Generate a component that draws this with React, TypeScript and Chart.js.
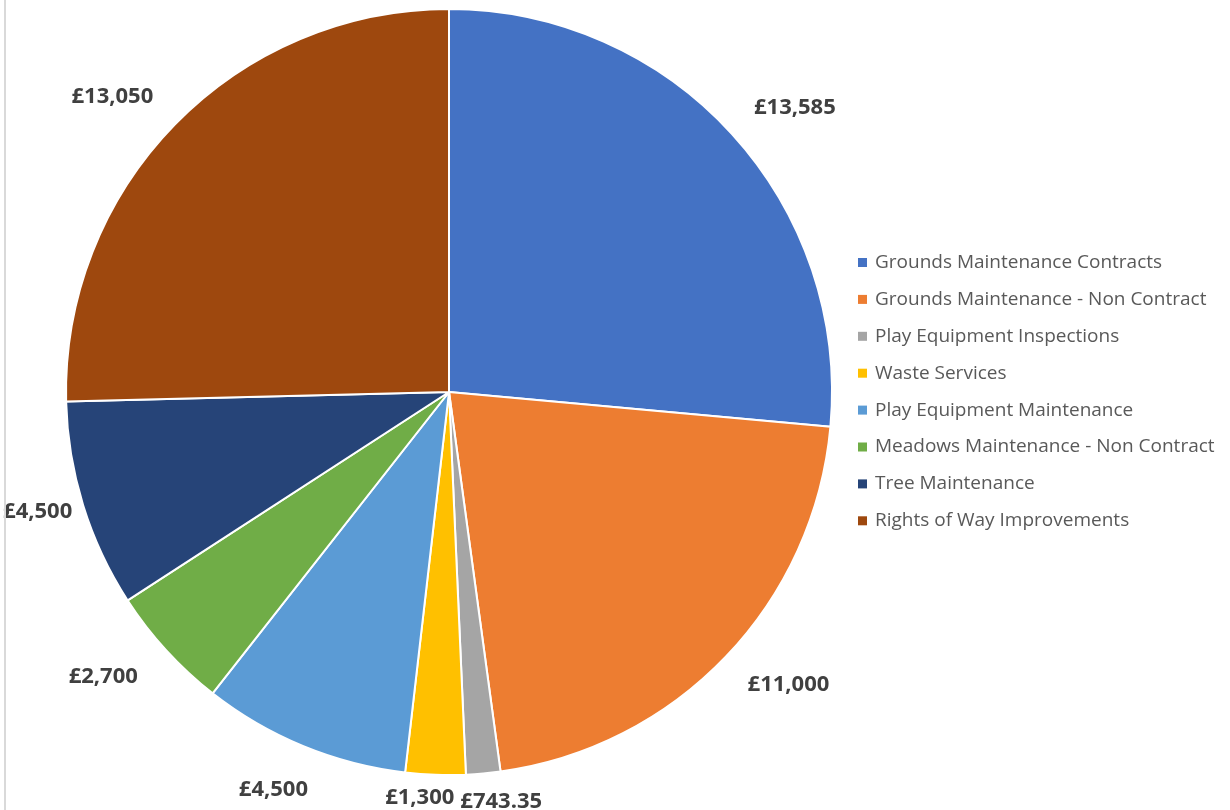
import React, { useEffect, useRef } from "react";
import { Chart, registerables } from "chart.js";

Chart.register(...registerables);

const categories = [
  "Grounds Maintenance Contracts",
  "Grounds Maintenance - Non Contract",
  "Play Equipment Inspections",
  "Waste Services",
  "Play Equipment Maintenance",
  "Meadows Maintenance - Non Contract",
  "Tree Maintenance",
  "Rights of Way Improvements",
];
const values = [13585, 11000, 743.35, 1300, 4500, 2700, 4500, 13050];
const colors = ["#4472C4", "#ED7D31", "#A5A5A5", "#FFC000", "#5B9BD5", "#70AD47", "#264478", "#9E480E"];

const fmt = (v: number) =>
  "£" + v.toLocaleString("en-GB", { minimumFractionDigits: 0, maximumFractionDigits: 2 });

const labelPlugin = {
  id: "outerLabels",
  afterDatasetsDraw(chart: any) {
    const ctx = chart.ctx;
    const meta = chart.getDatasetMeta(0);
    ctx.save();
    ctx.font = "bold 22px 'Open Sans'";
    const h = 24;
    const items = meta.data.map((arc: any, i: number) => {
      const p = arc.getProps(["x", "y", "startAngle", "endAngle", "outerRadius"], true);
      const mid = (p.startAngle + p.endAngle) / 2;
      const a = mid + Math.PI / 2;
      const s2 = Math.sin(2 * a);
      const aAdj = a + ((3 * Math.PI) / 180) * s2 * Math.abs(s2);
      const dist = p.outerRadius + 20 + 45 * Math.abs(s2);
      const text = fmt(values[i]);
      const w = ctx.measureText(text).width;
      return { text, w, cx: p.x + dist * Math.sin(aAdj), cy: p.y - dist * Math.cos(aAdj) };
    });
    for (let it = 0; it < 20; it++) {
      for (let i = 0; i < items.length; i++) {
        for (let j = i + 1; j < items.length; j++) {
          const A = items[i], B = items[j];
          if (Math.abs(A.cy - B.cy) >= h) continue;
          const need = (A.w + B.w) / 2 + 6;
          const d = B.cx - A.cx;
          if (Math.abs(d) < need) {
            const push = (need - Math.abs(d)) / 2;
            const s = d >= 0 ? 1 : -1;
            A.cx -= s * push;
            B.cx += s * push;
          }
        }
      }
    }
    ctx.fillStyle = "#404040";
    ctx.textAlign = "center";
    ctx.textBaseline = "middle";
    items.forEach((o: any) => ctx.fillText(o.text, o.cx, o.cy));
    ctx.restore();
  },
};

const legendPlugin = {
  id: "customLegend",
  afterDraw(chart: any) {
    const ctx = chart.ctx;
    ctx.save();
    ctx.fillStyle = "#D9D9D9";
    ctx.fillRect(4, 0, 2, chart.height);
    ctx.font = "19px 'Open Sans'";
    ctx.textBaseline = "middle";
    ctx.textAlign = "left";
    categories.forEach((c, i) => {
      const y = 262 + i * 36.9;
      ctx.fillStyle = colors[i];
      ctx.fillRect(858, y - 4, 9, 9);
      ctx.fillStyle = "#595959";
      ctx.fillText(c, 875, y + 0.5);
    });
    ctx.restore();
  },
};

export default function App() {
  const ref = useRef<HTMLCanvasElement>(null);
  useEffect(() => {
    if (!ref.current) return;
    const chart = new Chart(ref.current, {
      type: "pie",
      data: {
        labels: categories,
        datasets: [
          {
            data: values,
            backgroundColor: colors,
            borderColor: "#FFFFFF",
            borderWidth: 2,
          },
        ],
      },
      options: {
        animation: false,
        responsive: false,
        layout: { padding: { left: 65, top: 8, right: 397, bottom: 34 } },
        plugins: { legend: { display: false }, tooltip: { enabled: false } },
      },
      plugins: [labelPlugin, legendPlugin],
    });
    return () => chart.destroy();
  }, []);
  return (
    <div style={{ position: "fixed", left: 0, top: 0, width: 1230, height: 810, background: "#fff" }}>
      <canvas ref={ref} width={1230} height={810} />
    </div>
  );
}
